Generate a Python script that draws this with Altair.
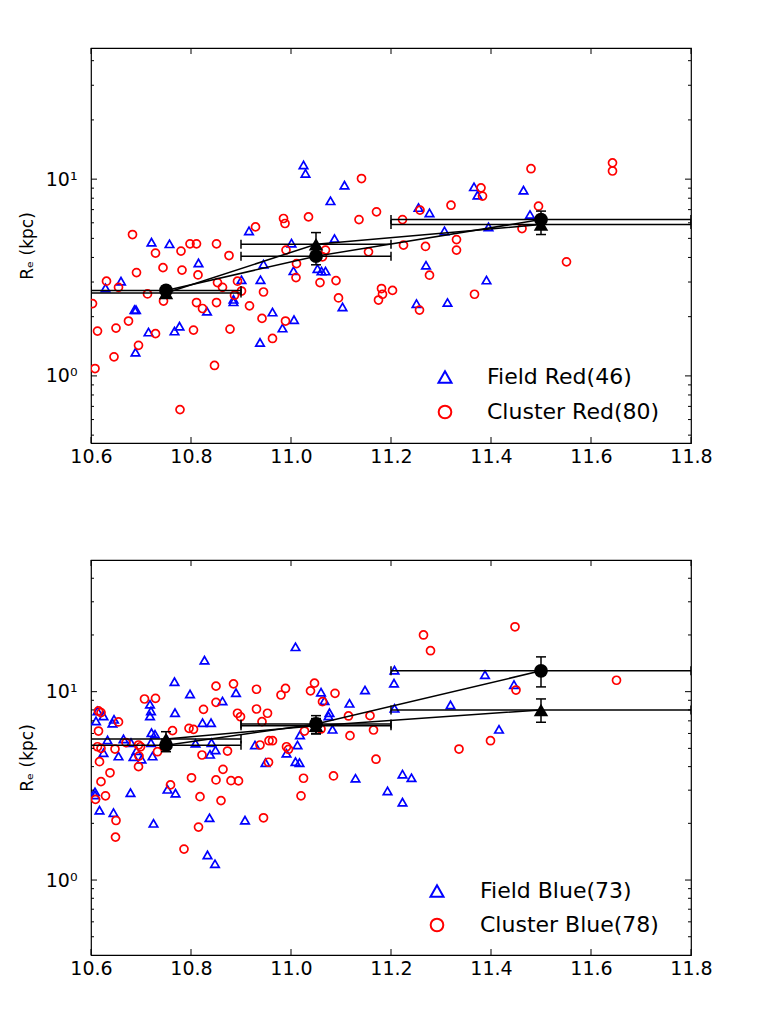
import altair as alt
import pandas as pd

# ---------------- data ----------------
# Top panel: red galaxies
field_red_x = [11.025, 11.029, 11.107, 11.079, 10.916, 10.721, 10.757, 11.001, 11.087, 10.815,
               10.945, 11.005, 11.053, 11.061, 11.069, 10.939, 10.901, 10.629, 10.660, 10.885,
               10.885, 10.832, 10.687, 10.690, 10.963, 11.006, 11.103, 10.715, 10.767, 10.777,
               10.983, 10.938, 10.689, 11.366, 11.373, 11.465, 11.255, 11.277, 11.478, 11.307,
               11.395, 11.270, 11.391, 11.251, 11.313, 10.750]
field_red_y = [11.8, 10.7, 9.32, 7.76, 5.46, 4.78, 4.69, 4.73, 4.99, 3.75,
               3.70, 3.42, 3.51, 3.41, 3.41, 3.08, 3.08, 2.80, 3.03, 2.45,
               2.38, 2.13, 2.17, 2.17, 2.11, 1.93, 2.24, 1.67, 1.69, 1.79,
               1.75, 1.48, 1.32, 9.14, 8.29, 8.79, 7.17, 6.74, 6.61, 5.46,
               5.72, 3.65, 3.07, 2.33, 2.36, 2.60]

cluster_red_x = [11.141, 10.985, 10.988, 11.035, 10.929, 11.136, 11.171, 10.683, 10.729, 10.780,
                 10.798, 10.811, 10.851, 10.876, 10.744, 10.782, 10.814, 10.691, 10.990, 11.069,
                 11.063, 11.011, 11.155, 11.010, 11.058, 11.090, 10.853, 10.863, 10.945, 10.893,
                 10.901, 10.631, 10.655, 10.713, 11.095, 11.181, 11.183, 11.203, 11.175, 10.745,
                 10.603, 10.811, 10.823, 10.851, 10.887, 10.917, 10.942, 10.963, 10.989, 10.878,
                 10.805, 10.729, 10.675, 10.650, 10.613, 10.695, 10.646, 10.608, 10.847, 10.778,
                 11.480, 11.643, 11.643, 11.380, 11.383, 11.258, 11.320, 11.495, 11.223, 11.462,
                 11.225, 11.269, 11.331, 11.331, 11.277, 11.551, 11.367, 11.257, 10.752, 11.048]
cluster_red_y = [10.07, 6.31, 5.95, 6.43, 5.72, 6.23, 6.82, 5.23, 4.21, 4.31,
                 4.69, 4.69, 4.69, 4.09, 3.55, 3.45, 3.26, 3.35, 4.36, 4.36,
                 4.03, 3.72, 4.27, 3.16, 2.98, 3.05, 2.98, 2.82, 2.67, 3.03,
                 2.70, 3.03, 2.82, 2.61, 2.49, 2.78, 2.60, 2.72, 2.43, 2.40,
                 2.33, 2.36, 2.20, 2.36, 2.57, 2.27, 1.96, 1.55, 1.90, 1.73,
                 1.71, 1.64, 1.90, 1.75, 1.69, 1.43, 1.25, 1.09, 1.13, 0.674,
                 11.3, 12.1, 11.0, 9.03, 8.20, 6.96, 7.37, 7.29, 6.23, 5.61,
                 4.62, 4.55, 4.93, 4.36, 3.25, 3.80, 2.60, 2.16, 2.68, 4.10]

# Bottom panel: blue galaxies
field_blue_x = [11.009, 10.827, 10.767, 10.798, 10.890, 11.148, 11.207, 11.206, 11.060, 11.067,
                11.117, 10.863, 10.718, 10.720, 10.718, 10.768, 10.613, 10.625, 10.610, 10.646,
                10.643, 10.823, 10.840, 11.077, 11.075, 11.207, 11.083, 11.018, 10.721, 10.728,
                10.633, 10.665, 10.625, 10.655, 10.685, 10.691, 10.701, 10.723, 10.720, 10.680,
                10.809, 10.841, 10.849, 10.838, 10.928, 10.991, 11.013, 10.949, 11.009, 11.017,
                11.129, 11.193, 10.608, 10.608, 10.617, 10.645, 10.679, 10.725, 10.753, 10.769,
                10.837, 10.908, 10.833, 10.848, 11.416, 11.223, 11.241, 11.223, 11.388, 11.446,
                11.319, 10.752, 11.050]
field_blue_y = [17.3, 14.7, 11.3, 9.72, 9.88, 10.2, 13.0, 11.1, 9.93, 8.96,
                8.67, 8.92, 8.57, 7.90, 7.43, 7.74, 7.90, 7.43, 6.99, 7.13,
                6.80, 6.84, 6.84, 7.74, 7.43, 8.16, 6.31, 5.89, 6.06, 5.94,
                5.54, 5.61, 4.74, 4.55, 4.52, 4.86, 4.38, 4.55, 5.36, 5.36,
                5.32, 5.36, 4.90, 4.65, 5.21, 4.71, 5.21, 4.20, 4.25, 4.20,
                3.47, 2.97, 2.94, 2.83, 2.35, 2.28, 2.91, 2.00, 3.03, 2.89,
                2.14, 2.08, 1.36, 1.22, 6.31, 3.65, 3.49, 2.59, 12.3, 10.9,
                8.50, 5.55, 6.60]

cluster_blue_x = [10.707, 10.729, 10.850, 10.885, 10.931, 10.989, 10.980, 11.047, 11.039, 11.088,
                  11.063, 10.850, 10.825, 10.931, 10.953, 10.893, 10.899, 10.942, 11.115, 11.158,
                  10.615, 10.620, 10.655, 10.615, 10.763, 10.796, 10.805, 11.027, 11.060, 11.165,
                  11.118, 10.613, 10.620, 10.617, 10.648, 10.670, 10.695, 10.699, 10.696, 10.695,
                  10.733, 10.638, 10.620, 10.629, 10.609, 10.650, 10.649, 10.759, 10.801, 10.818,
                  10.822, 10.850, 10.864, 10.880, 10.895, 10.860, 10.815, 10.786, 10.873, 10.938,
                  10.956, 10.963, 10.955, 10.991, 10.995, 10.945, 11.025, 11.020, 11.085, 11.170,
                  11.265, 11.279, 11.448, 11.450, 11.651, 11.399, 11.336, 11.052]
cluster_blue_y = [9.14, 9.22, 10.7, 11.0, 10.3, 10.4, 9.60, 11.1, 10.1, 9.80,
                  8.85, 8.78, 8.06, 8.09, 7.68, 7.68, 7.36, 6.93, 7.43, 7.46,
                  7.90, 7.74, 6.91, 6.18, 6.21, 6.39, 6.31, 6.18, 6.34, 6.26,
                  5.84, 5.10, 5.00, 4.25, 4.96, 5.36, 5.21, 5.10, 4.55, 4.00,
                  4.80, 3.71, 3.33, 2.80, 2.68, 2.07, 1.69, 3.20, 3.49, 2.77,
                  4.61, 3.40, 3.87, 3.37, 3.36, 2.64, 1.91, 1.46, 4.84, 5.21,
                  5.49, 5.49, 4.22, 5.10, 4.94, 2.14, 3.47, 2.80, 3.57, 4.38,
                  20.0, 16.5, 22.1, 10.2, 11.5, 5.49, 4.96, 6.70]

# Binned medians (mass bins)
bin_center = [10.75, 11.05, 11.5]
bin_lo = [10.6, 10.9, 11.2]
bin_hi = [10.9, 11.2, 11.8]

top_field_med = [2.64, 4.67, 5.88]
top_field_elo = [2.50, 3.99, 5.23]
top_field_ehi = [2.80, 5.35, 6.53]
top_cluster_med = [2.72, 4.06, 6.23]
top_cluster_elo = [2.60, 3.67, 5.58]
top_cluster_ehi = [2.85, 4.45, 6.88]

bot_field_med = [5.60, 6.60, 8.00]
bot_field_elo = [5.10, 6.00, 6.88]
bot_field_ehi = [6.13, 7.20, 9.15]
bot_cluster_med = [5.20, 6.74, 12.9]
bot_cluster_elo = [4.80, 5.96, 10.6]
bot_cluster_ehi = [5.60, 7.46, 15.3]

x_ticks = [10.6, 10.8, 11.0, 11.2, 11.4, 11.6, 11.8]
y_major = [1, 10]
y_minor = [0.5, 0.6, 0.7, 0.8, 0.9, 2, 3, 4, 5, 6, 7, 8, 9, 20, 30, 40]

# ---------------- styling ----------------
W, H = 600, 395
BLUE = "#0000ff"
RED = "#ff0000"
FONT = "DejaVu Sans"


def panel(fx, fy, cx, cy, fmed, felo, fehi, cmed, celo, cehi, ydom, labels, leg):
    xs = alt.Scale(domain=[10.6, 11.8], nice=False, zero=False)
    ys = alt.Scale(type="log", domain=ydom, nice=False, zero=False)
    xaxis = alt.Axis(values=x_ticks, format=".1f", title=None, ticks=False, domain=False,
                     grid=False, labelFontSize=19, labelFont=FONT, labelColor="black",
                     labelPadding=4, labelFlush=False)
    yaxis = alt.Axis(values=y_major, title="Rₑ (kpc)", ticks=False, domain=False, grid=False,
                     labelExpr="datum.value == 10 ? '10¹' : '10⁰'",
                     labelFontSize=19, labelFont=FONT, labelColor="black", labelPadding=14,
                     titleFontSize=17, titleFont=FONT, titleFontWeight="normal",
                     titleColor="black", titlePadding=9)

    def X(f):
        return alt.X(f"{f}:Q", scale=xs, axis=xaxis)

    def Y(f):
        return alt.Y(f"{f}:Q", scale=ys, axis=yaxis)

    df_f = pd.DataFrame({"x": fx, "y": fy})
    df_c = pd.DataFrame({"x": cx, "y": cy})

    rows = []
    for s, med, elo, ehi in (("field", fmed, felo, fehi), ("cluster", cmed, celo, cehi)):
        for i in range(3):
            rows.append({"series": s, "x": bin_center[i], "lo": bin_lo[i], "hi": bin_hi[i],
                         "med": med[i], "elo": elo[i], "ehi": ehi[i]})
    bins = pd.DataFrame(rows)
    hcaps = pd.concat([bins.assign(xc=bins["lo"]), bins.assign(xc=bins["hi"])])
    vcaps = pd.concat([bins.assign(ev=bins["elo"]), bins.assign(ev=bins["ehi"])])

    scat_f = alt.Chart(df_f).mark_point(shape="triangle-up", filled=False, color=BLUE,
                                        size=72, strokeWidth=1.7, opacity=1, clip=True
                                        ).encode(x=X("x"), y=Y("y"))
    scat_c = alt.Chart(df_c).mark_point(shape="circle", filled=False, color=RED,
                                        size=64, strokeWidth=1.7, opacity=1, clip=True
                                        ).encode(x=X("x"), y=Y("y"))
    hbar = alt.Chart(bins).mark_rule(color="black", strokeWidth=1.5, clip=True).encode(
        x=X("lo"), x2="hi", y=Y("med"))
    hcap = alt.Chart(hcaps).mark_tick(orient="vertical", size=9, thickness=1.5, color="black",
                                      opacity=1, clip=True).encode(x=X("xc"), y=Y("med"))
    vbar = alt.Chart(bins).mark_rule(color="black", strokeWidth=1.5).encode(
        x=X("x"), y=Y("elo"), y2="ehi")
    vcap = alt.Chart(vcaps).mark_tick(orient="horizontal", size=10, thickness=1.5,
                                      color="black", opacity=1).encode(x=X("x"), y=Y("ev"))
    line = alt.Chart(bins).mark_line(color="black", strokeWidth=1.5).encode(
        x=X("x"), y=Y("med"), detail="series:N")
    mk_f = alt.Chart(bins).transform_filter("datum.series == 'field'").mark_point(
        shape="triangle-up", filled=True, color="black", size=210, opacity=1).encode(
        x=X("x"), y=Y("med"))
    mk_c = alt.Chart(bins).transform_filter("datum.series == 'cluster'").mark_point(
        shape="circle", filled=True, color="black", size=190, opacity=1).encode(
        x=X("x"), y=Y("med"))

    # inward ticks on all four sides (matplotlib classic style)
    ymaj = pd.DataFrame({"v": y_major})
    ymin = pd.DataFrame({"v": [v for v in y_minor if ydom[0] < v < ydom[1]]})
    xt = pd.DataFrame({"v": x_ticks})
    tick_layers = [
        alt.Chart(ymaj).mark_rule(color="black", strokeWidth=1).encode(
            y=Y("v"), x=alt.value(0), x2=alt.value(6)),
        alt.Chart(ymaj).mark_rule(color="black", strokeWidth=1).encode(
            y=Y("v"), x=alt.value(W), x2=alt.value(W - 6)),
        alt.Chart(ymin).mark_rule(color="black", strokeWidth=1).encode(
            y=Y("v"), x=alt.value(0), x2=alt.value(3)),
        alt.Chart(ymin).mark_rule(color="black", strokeWidth=1).encode(
            y=Y("v"), x=alt.value(W), x2=alt.value(W - 3)),
        alt.Chart(xt).mark_rule(color="black", strokeWidth=1).encode(
            x=X("v"), y=alt.value(H), y2=alt.value(H - 6)),
        alt.Chart(xt).mark_rule(color="black", strokeWidth=1).encode(
            x=X("v"), y=alt.value(0), y2=alt.value(6)),
    ]

    # legend drawn inside the axes (lower right)
    mx, tx, y1, y2 = leg
    legend_layers = [
        alt.Chart(pd.DataFrame({"t": [labels[0]]})).mark_point(
            shape="triangle-up", filled=False, color=BLUE, size=170, strokeWidth=2, opacity=1
        ).encode(x=alt.value(mx), y=alt.value(y1)),
        alt.Chart(pd.DataFrame({"t": [labels[1]]})).mark_point(
            shape="circle", filled=False, color=RED, size=160, strokeWidth=2, opacity=1
        ).encode(x=alt.value(mx), y=alt.value(y2)),
        alt.Chart(pd.DataFrame({"t": [labels[0]]})).mark_text(
            align="left", baseline="middle", fontSize=22, font=FONT, color="black"
        ).encode(x=alt.value(tx), y=alt.value(y1), text="t:N"),
        alt.Chart(pd.DataFrame({"t": [labels[1]]})).mark_text(
            align="left", baseline="middle", fontSize=22, font=FONT, color="black"
        ).encode(x=alt.value(tx), y=alt.value(y2), text="t:N"),
    ]

    return alt.layer(scat_f, scat_c, hbar, hcap, vbar, vcap, line, mk_f, mk_c,
                     *tick_layers, *legend_layers).properties(width=W, height=H)


top = panel(field_red_x, field_red_y, cluster_red_x, cluster_red_y,
            top_field_med, top_field_elo, top_field_ehi,
            top_cluster_med, top_cluster_elo, top_cluster_ehi,
            [0.456, 46.4], ["Field Red(46)", "Cluster Red(80)"], (354, 396, 329, 364))
bottom = panel(field_blue_x, field_blue_y, cluster_blue_x, cluster_blue_y,
               bot_field_med, bot_field_elo, bot_field_ehi,
               bot_cluster_med, bot_cluster_elo, bot_cluster_ehi,
               [0.4, 50], ["Field Blue(73)", "Cluster Blue(78)"], (346, 389, 331, 365))

chart = alt.vconcat(top, bottom, spacing=91).properties(
    padding={"top": 46, "left": 17, "right": 10, "bottom": 10},
    background="white",
).configure_view(stroke="black", strokeWidth=1.2)

chart.save("out.html", embed_options={"renderer": "svg", "actions": False})
